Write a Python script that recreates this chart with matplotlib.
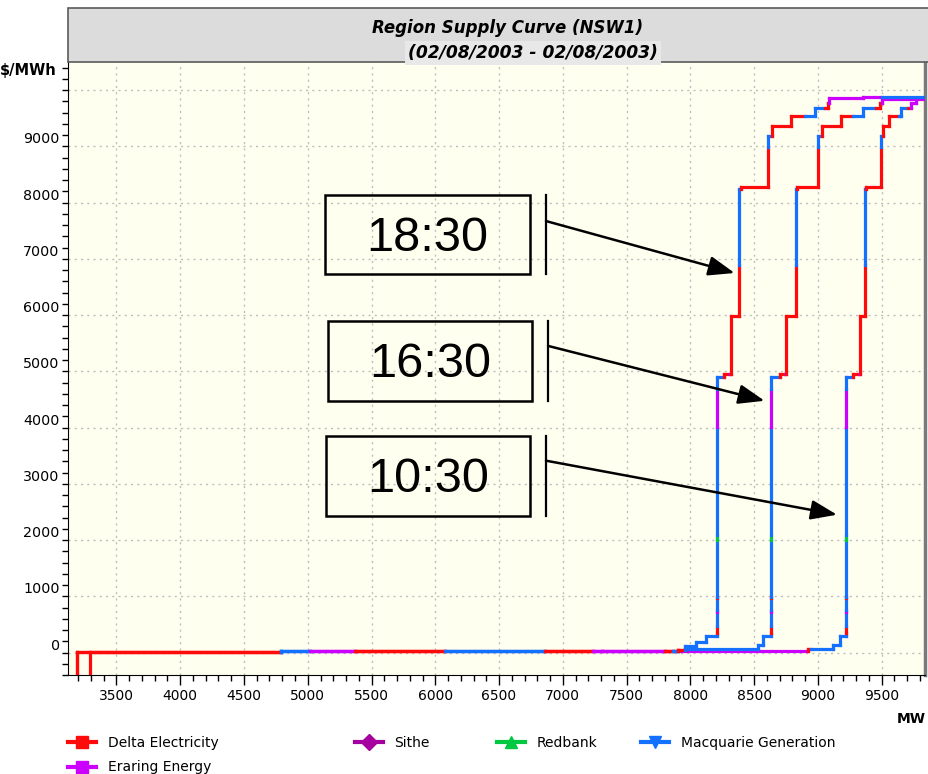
import matplotlib
matplotlib.use("Agg")
import matplotlib.pyplot as plt
from matplotlib.collections import LineCollection
from matplotlib.lines import Line2D
from matplotlib.patches import Rectangle

# participants
owner_names = {'D': 'Delta Electricity', 'E': 'Eraring Energy', 'S': 'Sithe',
               'R': 'Redbank', 'M': 'Macquarie Generation'}
owner_colors = {'D': '#ff0a0a', 'E': '#cc00ff', 'S': '#a5009f',
                'R': '#00c840', 'M': '#1470ff'}

# shared low-price part of the curves (MW where band starts, $/MWh, owner)
base_mw = [4788, 5016, 5369, 6074, 6858, 7234, 7310, 7799, 7861]
base_price = [22, 26, 26, 28, 28, 28, 30, 30, 32]
base_owner = ['M', 'E', 'D', 'M', 'D', 'E', 'E', 'D', 'M']

# stack of bands at the big price jump (same in all three intervals)
jump_price = [340, 480, 720, 760, 970, 990, 1994, 2083, 4005, 4687, 4893]
jump_owner = ['M', 'D', 'M', 'E', 'M', 'D', 'M', 'R', 'M', 'E', 'M']

# 18:30
start_1830 = 3192
pre_mw_1830 = [7900, 7955, 8042, 8125]
pre_price_1830 = [40, 117, 178, 300]
pre_owner_1830 = ['D', 'M', 'M', 'M']
jump_mw_1830 = 8210
post_mw_1830 = [8260, 8310, 8321, 8381, 8381, 8398, 8608, 8608, 8642, 8791,
                8896, 8974, 9052, 9078, 9090, 9353, 9505]
post_price_1830 = [4953, 4960, 5988, 6893, 8248, 8278, 8994, 9183, 9361, 9538,
                   9538, 9675, 9675, 9775, 9864, 9881, 9881]
post_owner_1830 = ['D', 'E', 'D', 'D', 'M', 'D', 'D', 'M', 'D', 'D',
                   'M', 'M', 'D', 'D', 'E', 'E', 'M']

# 16:30
start_1630 = 3192
pre_mw_1630 = [7900, 7955, 8530, 8569]
pre_price_1630 = [40, 71, 130, 300]
pre_owner_1630 = ['D', 'M', 'M', 'M']
jump_mw_1630 = 8629
post_mw_1630 = [8700, 8745, 8752, 8825, 8825, 8840, 9000, 9000, 9034, 9183,
                9274, 9353, 9458, 9484, 9500]
post_price_1630 = [4953, 4960, 5988, 6893, 8248, 8278, 8994, 9183, 9361, 9538,
                   9538, 9675, 9675, 9775, 9840]
post_owner_1630 = ['D', 'E', 'D', 'D', 'M', 'D', 'D', 'M', 'D', 'D',
                   'M', 'M', 'D', 'D', 'E']

# 10:30
start_1030 = 3293
pre_mw_1030 = [7900, 8922, 8950, 9118, 9170]
pre_price_1030 = [28, 71, 71, 130, 300]
pre_owner_1030 = ['E', 'D', 'M', 'M', 'M']
jump_mw_1030 = 9217
post_mw_1030 = [9274, 9320, 9327, 9366, 9366, 9380, 9497, 9497, 9510, 9554,
                9640, 9654, 9706, 9732, 9771]
post_price_1030 = [4953, 4960, 5988, 6893, 8248, 8278, 8994, 9183, 9361, 9538,
                   9538, 9675, 9675, 9775, 9864]
post_owner_1030 = ['D', 'E', 'D', 'D', 'M', 'D', 'D', 'M', 'D', 'D',
                   'M', 'M', 'D', 'E', 'E']

curve_end_mw = 9950
floor_price = -1000

x_ticks = list(range(3500, 10000, 500))
y_ticks = list(range(0, 10001, 1000))
y_labels = [str(v) for v in y_ticks[:-1]] + ['']


def build(start, pre_mw, pre_price, pre_owner, jmw, post_mw, post_price, post_owner):
    mw = [start] + base_mw + pre_mw + [jmw] * len(jump_price) + post_mw
    price = [3] + base_price + pre_price + jump_price + post_price
    owner = ['D'] + base_owner + pre_owner + jump_owner + post_owner
    segs, cols = [], []
    prev = floor_price
    for i in range(len(mw)):
        x0 = mw[i]
        x1 = mw[i + 1] if i + 1 < len(mw) else curve_end_mw
        c = owner_colors[owner[i]]
        segs.append([(x0, prev), (x0, price[i])])
        cols.append(c)
        if x1 > x0:
            segs.append([(x0, price[i]), (x1, price[i])])
            cols.append(c)
        prev = price[i]
    return segs, cols


fig = plt.figure(figsize=(9.29, 7.74), dpi=100)
ax = fig.add_axes([68 / 929, 1 - 675 / 774, (925 - 68) / 929, (675 - 62) / 774])
ax.set_facecolor('#fffff0')

# header band
fig.patches.append(Rectangle((68 / 929, 1 - 62 / 774), (929 - 68) / 929, 54 / 774,
                             transform=fig.transFigure, facecolor='#dcdcdc',
                             edgecolor='#5a5a5a', lw=1.2, zorder=0))
fig.text(508 / 929, 1 - 28 / 774, 'Region Supply Curve (NSW1)', ha='center', va='center',
         fontsize=12, fontweight='bold', fontstyle='italic')
fig.text(533 / 929, 1 - 53 / 774, '(02/08/2003 - 02/08/2003)', ha='center', va='center',
         fontsize=12.3, fontweight='bold', fontstyle='italic',
         bbox=dict(facecolor='#e8e8e8', edgecolor='none', pad=2))

ax.set_xlim(3120, 9840)
ax.set_ylim(-400, 10500)
ax.set_xticks(x_ticks)
ax.set_xticks(range(3200, 9900, 100), minor=True)
ax.set_yticks(y_ticks)
ax.set_yticklabels(y_labels)
ax.set_yticks(range(-400, 10500, 200), minor=True)
for lab in ax.get_yticklabels():
    lab.set_va('bottom')
ax.tick_params(axis='x', which='major', direction='out', length=7, width=1, pad=3, labelsize=10)
ax.tick_params(axis='x', which='minor', direction='out', length=4.5, width=1)
ax.tick_params(axis='y', which='both', direction='out', length=4, width=1, pad=2, labelsize=10.3)
ax.grid(True, which='major', color='#bdbdbd', linestyle=(0, (1.5, 3)), lw=1)
ax.set_axisbelow(True)
ax.spines['top'].set_visible(False)
ax.spines['right'].set_color('#7a7a7a')
ax.spines['right'].set_linewidth(2.5)

for args in [
    (start_1030, pre_mw_1030, pre_price_1030, pre_owner_1030, jump_mw_1030,
     post_mw_1030, post_price_1030, post_owner_1030),
    (start_1630, pre_mw_1630, pre_price_1630, pre_owner_1630, jump_mw_1630,
     post_mw_1630, post_price_1630, post_owner_1630),
    (start_1830, pre_mw_1830, pre_price_1830, pre_owner_1830, jump_mw_1830,
     post_mw_1830, post_price_1830, post_owner_1830),
]:
    segs, cols = build(*args)
    ax.add_collection(LineCollection(segs, colors=cols, linewidths=2.3,
                                     capstyle='projecting', zorder=3))

# time labels with arrows
labels_txt = ['18:30', '16:30', '10:30']
box_x = [(5136, 6743), (5160, 6759), (5144, 6743)]
box_y = [(6731, 8133), (4476, 5896), (2435, 3855)]
bar_x = [6868, 6884, 6868]
arrow_from = [7672, 5452, 3411]
arrow_to = [(8347, 6748), (8582, 4476), (9150, 2450)]
for t, bx, by, vx, af, at in zip(labels_txt, box_x, box_y, bar_x, arrow_from, arrow_to):
    ax.add_patch(Rectangle((bx[0], by[0]), bx[1] - bx[0], by[1] - by[0], fill=False,
                           edgecolor='black', lw=1.8, zorder=4))
    ax.text((bx[0] + bx[1]) / 2, (by[0] + by[1]) / 2 - 70, t, ha='center', va='center',
            fontsize=35, family='Liberation Sans', zorder=4)
    ax.plot([vx, vx], [by[0], by[1]], color='black', lw=1.6, zorder=4)
    ax.annotate('', xy=at, xytext=(vx, af),
                arrowprops=dict(arrowstyle='-|>,head_length=0.8,head_width=0.3',
                                lw=1.8, color='black', mutation_scale=20,
                                shrinkA=0, shrinkB=0), zorder=5)

fig.text(0, 1 - 70 / 774, '$/MWh', ha='left', va='center', fontsize=10.5,
         fontweight='bold')
fig.text(926 / 929, 1 - 719 / 774, 'MW', ha='right', va='center', fontsize=10,
         fontweight='bold')

# legend in columns
def handle(code, marker):
    return Line2D([], [], color=owner_colors[code], lw=3, marker=marker, markersize=8)

columns = [
    (68, [('D', 's'), ('E', 's')]),
    (355, [('S', 'D')]),
    (497, [('R', '^')]),
    (641, [('M', 'v')]),
]
for xpx, items in columns:
    hs = [handle(c, m) for c, m in items]
    fig.legend(hs, [owner_names[c] for c, m in items], loc='upper left',
               bbox_to_anchor=(xpx / 929, 1 - 736 / 774), frameon=False,
               fontsize=10, handlelength=2.0, handletextpad=0.85, borderaxespad=0,
               borderpad=0, labelspacing=0.75)

fig.savefig('out.png', dpi=100)
